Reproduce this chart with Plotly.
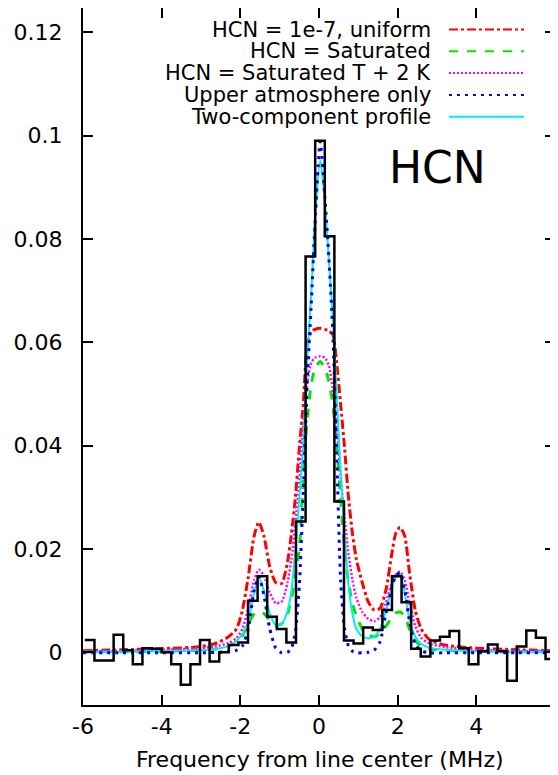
import plotly.graph_objects as go

# ---------------- observed spectrum (channel centres, MHz) ----------------
chan_freq = [-5.831, -5.587, -5.343, -5.099, -4.855, -4.611, -4.367, -4.123,
             -3.879, -3.635, -3.391, -3.147, -2.903, -2.659, -2.415, -2.171,
             -1.927, -1.683, -1.439, -1.195, -0.951, -0.707, -0.463, -0.219,
             0.025, 0.269, 0.513, 0.757, 1.001, 1.245, 1.489, 1.733,
             1.977, 2.221, 2.465, 2.709, 2.953, 3.197, 3.441, 3.685,
             3.929, 4.173, 4.417, 4.661, 4.905, 5.149, 5.393, 5.637, 5.881]
chan_width = 0.244
obs = [0.0024, -0.0016, -0.0016, 0.0034, 0.0004, -0.0023, 0.0008, 0.0007,
       0.0000, -0.0023, -0.0063, -0.0023, 0.0024, -0.0018, 0.0000, 0.0014,
       0.0019, 0.0100, 0.0147, 0.0069, 0.0045, 0.0019, 0.0253, 0.0766,
       0.0990, 0.0805, 0.0292, 0.0023, 0.0017, 0.0048, 0.0043, 0.0082,
       0.0147, 0.0097, 0.0007, -0.0008, 0.0023, 0.0030, 0.0041, 0.0008,
       -0.0023, 0.0002, 0.0015, 0.0002, -0.0055, 0.0011, 0.0042, 0.0028, -0.0013]

# ---------------- model curves ----------------
model_freq = [-6.0, -5.0, -4.0, -3.0, -2.6, -2.3, -2.1, -1.95, -1.8, -1.65,
              -1.53, -1.4, -1.25, -1.1, -0.95, -0.8, -0.7, -0.6, -0.5, -0.4,
              -0.3, -0.2, -0.1, 0.03, 0.15, 0.25, 0.35, 0.45, 0.55, 0.65,
              0.75, 0.85, 0.95, 1.1, 1.25, 1.4, 1.55, 1.7, 1.85, 1.95,
              2.06, 2.18, 2.3, 2.45, 2.6, 2.8, 3.2, 4.0, 5.0, 6.0]

uniform = [0.0003, 0.0005, 0.0007, 0.0011, 0.0018, 0.0030, 0.0045, 0.0080, 0.0145, 0.0225,
           0.0252, 0.0225, 0.0165, 0.0135, 0.0133, 0.0175, 0.0230, 0.0300, 0.0395, 0.0480,
           0.0595, 0.0620, 0.0625, 0.0627, 0.0625, 0.0622, 0.0615, 0.0560, 0.0480, 0.0395,
           0.0300, 0.0230, 0.0180, 0.0135, 0.0098, 0.0082, 0.0085, 0.0120, 0.0190, 0.0230,
           0.0242, 0.0225, 0.0155, 0.0080, 0.0045, 0.0025, 0.0014, 0.0008, 0.0005, 0.0003]

saturated = [0.0001, 0.0001, 0.0002, 0.0004, 0.0007, 0.0012, 0.0020, 0.0032, 0.0055, 0.0074,
             0.0080, 0.0075, 0.0062, 0.0052, 0.0055, 0.0075, 0.0105, 0.0150, 0.0200, 0.0340,
             0.0450, 0.0518, 0.0550, 0.0563, 0.0550, 0.0525, 0.0480, 0.0400, 0.0300, 0.0200,
             0.0135, 0.0095, 0.0070, 0.0045, 0.0034, 0.0030, 0.0036, 0.0050, 0.0068, 0.0076,
             0.0078, 0.0070, 0.0045, 0.0022, 0.0012, 0.0007, 0.0004, 0.0002, 0.0001, 0.0001]

saturated_t2 = [0.0002, 0.0003, 0.0005, 0.0008, 0.0012, 0.0018, 0.0027, 0.0045, 0.0085, 0.0140,
                0.0160, 0.0148, 0.0115, 0.0095, 0.0098, 0.0135, 0.0180, 0.0250, 0.0330, 0.0440,
                0.0520, 0.0560, 0.0570, 0.0573, 0.0570, 0.0555, 0.0510, 0.0440, 0.0340, 0.0260,
                0.0190, 0.0140, 0.0105, 0.0078, 0.0065, 0.0060, 0.0068, 0.0095, 0.0135, 0.0150,
                0.0156, 0.0140, 0.0095, 0.0050, 0.0028, 0.0017, 0.0010, 0.0005, 0.0003, 0.0002]

upper_only = [-0.0001, -0.0001, -0.0001, -0.0001, 0.0000, 0.0002, 0.0004, 0.0012, 0.0045, 0.0120,
              0.0147, 0.0110, 0.0045, 0.0008, -0.0001, 0.0000, 0.0008, 0.0040, 0.0130, 0.0310,
              0.0520, 0.0670, 0.0830, 0.0988, 0.0880, 0.0765, 0.0620, 0.0384, 0.0140, 0.0045,
              0.0012, 0.0002, -0.0001, -0.0001, 0.0000, 0.0004, 0.0020, 0.0075, 0.0125, 0.0148,
              0.0154, 0.0120, 0.0060, 0.0015, 0.0003, -0.0001, -0.0001, -0.0001, -0.0001, -0.0001]

two_comp = [0.0000, 0.0001, 0.0002, 0.0004, 0.0007, 0.0012, 0.0022, 0.0035, 0.0060, 0.0115,
            0.0145, 0.0120, 0.0075, 0.0053, 0.0055, 0.0080, 0.0120, 0.0200, 0.0300, 0.0400,
            0.0570, 0.0690, 0.0840, 0.0953, 0.0870, 0.0760, 0.0650, 0.0500, 0.0350, 0.0230,
            0.0130, 0.0075, 0.0045, 0.0031, 0.0027, 0.0030, 0.0045, 0.0080, 0.0125, 0.0145,
            0.0152, 0.0115, 0.0065, 0.0030, 0.0016, 0.0009, 0.0005, 0.0002, 0.0001, 0.0000]

labels = ["HCN = 1e-7, uniform", "HCN = Saturated", "HCN = Saturated T + 2 K",
          "Upper atmosphere only", "Two-component profile"]
colors = ["#ff0000", "#00e600", "#ff00ff", "#0000ff", "#00eeee"]
dashes = ["dashdot", "dash", "2px,2px", "3px,5px", "solid"]
widths = [3, 3, 2.5, 3, 2]
series = [uniform, saturated, saturated_t2, upper_only, two_comp]

x_ticks = [-6, -4, -2, 0, 2, 4, 6]
x_ticktext = ["-6", "-4", "-2", "0", "2", "4", "6"]
y_ticks = [0, 0.02, 0.04, 0.06, 0.08, 0.1, 0.12]
y_ticktext = ["0", "0.02", "0.04", "0.06", "0.08", "0.1", "0.12"]

FONT = "DejaVu Sans"

fig = go.Figure()
order = [0, 1, 2, 4, 3]
for i in order:
    fig.add_trace(go.Scatter(
        x=model_freq, y=series[i], mode="lines", name=labels[i],
        line=dict(color=colors[i], dash=dashes[i], width=widths[i],
                  shape="spline", smoothing=0.6),
        showlegend=False))

# histogram steps (bin edges from channel centres)
edges = [f - chan_width / 2 for f in chan_freq] + [chan_freq[-1] + chan_width / 2]
step_y = obs + [obs[-1]]
fig.add_trace(go.Scatter(x=edges, y=step_y, mode="lines",
                         line=dict(color="black", width=2.5, shape="hv"),
                         showlegend=False))

# page has an 8 px body margin: figure origin sits at screen (8, 8)
OFF = 8
x0, x1 = 83, 555          # plot area in screen pixels
y0, y1 = 8, 705
def px(xp):
    return (xp - x0) / (x1 - x0)
def py(yp):
    return 1 - (yp - y0) / (y1 - y0)

row_y = [29.5, 51.3, 73.1, 94.9, 116.7]
for i in range(5):
    fig.add_annotation(x=px(433), y=py(row_y[i]), xref="paper", yref="paper",
                       text=labels[i], showarrow=False, xanchor="right", yanchor="middle",
                       font=dict(family=FONT, size=21, color="black"))
    fig.add_shape(type="line", xref="paper", yref="paper",
                  x0=px(449), x1=px(524), y0=py(row_y[i]), y1=py(row_y[i]),
                  line=dict(color=colors[i], dash=dashes[i], width=2))

fig.add_annotation(x=px(437), y=py(167), xref="paper", yref="paper", text="HCN",
                   showarrow=False, xanchor="center", yanchor="middle",
                   font=dict(family=FONT, size=44, color="black"))

fig.add_annotation(x=px(320), y=py(759), xref="paper", yref="paper",
                   text="Frequency from line center (MHz)", showarrow=False,
                   xanchor="center", yanchor="middle",
                   font=dict(family=FONT, size=22, color="black"))

fig.update_xaxes(range=[-6, 6], tickvals=x_ticks, ticktext=x_ticktext,
                 ticks="inside", ticklen=10, tickwidth=2, tickcolor="black",
                 showline=True, linewidth=2, linecolor="black", mirror="allticks",
                 showgrid=False, zeroline=False, ticklabelstandoff=1, automargin=False,
                 tickfont=dict(family=FONT, size=22, color="black"))
fig.update_yaxes(range=[-0.0102, 0.1247], tickvals=y_ticks, ticktext=y_ticktext,
                 ticks="inside", ticklen=10, tickwidth=2, tickcolor="black",
                 showline=True, linewidth=2, linecolor="black", mirror="allticks",
                 showgrid=False, zeroline=False, ticklabelstandoff=14, automargin=False,
                 tickfont=dict(family=FONT, size=22, color="black"))

W, H = 558 - OFF, 775 - OFF
fig.update_layout(width=W, height=H,
                  margin=dict(l=x0 - OFF, r=W - (x1 - OFF), t=y0 - OFF,
                              b=H - (y1 - OFF), autoexpand=False),
                  plot_bgcolor="white", paper_bgcolor="white",
                  showlegend=False)

fig.write_html("out.html")
